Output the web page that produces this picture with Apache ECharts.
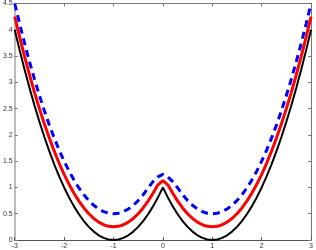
<!DOCTYPE html>
<html>
<head>
<meta charset="utf-8">
<script src="https://cdn.jsdelivr.net/npm/echarts@6/dist/echarts.min.js"></script>
<style>html,body{margin:0;padding:0;background:#fff}#c{width:316px;height:250px}</style>
</head>
<body>
<div id="c"></div>
<script>
var xs = [-3.0,-2.9,-2.8,-2.7,-2.6,-2.5,-2.4,-2.3,-2.2,-2.1,-2.0,-1.9,-1.8,-1.7,-1.6,-1.5,-1.4,-1.3,-1.2,-1.1,-1.0,-0.9,-0.8,-0.7,-0.6,-0.5,-0.4,-0.3,-0.2,-0.1,0.0,0.1,0.2,0.3,0.4,0.5,0.6,0.7,0.8,0.9,1.0,1.1,1.2,1.3,1.4,1.5,1.6,1.7,1.8,1.9,2.0,2.1,2.2,2.3,2.4,2.5,2.6,2.7,2.8,2.9,3.0];
var blackY = [4.00,3.61,3.24,2.89,2.56,2.25,1.96,1.69,1.44,1.21,1.00,0.81,0.64,0.49,0.36,0.25,0.16,0.09,0.04,0.01,0.00,0.01,0.04,0.09,0.16,0.25,0.36,0.49,0.64,0.81,1.00,0.81,0.64,0.49,0.36,0.25,0.16,0.09,0.04,0.01,0.00,0.01,0.04,0.09,0.16,0.25,0.36,0.49,0.64,0.81,1.00,1.21,1.44,1.69,1.96,2.25,2.56,2.89,3.24,3.61,4.00];
var redY = [4.25,3.86,3.49,3.14,2.81,2.50,2.21,1.94,1.69,1.46,1.25,1.06,0.89,0.74,0.61,0.50,0.41,0.34,0.29,0.26,0.25,0.26,0.29,0.34,0.41,0.50,0.61,0.74,0.89,1.05,1.13,1.05,0.89,0.74,0.61,0.50,0.41,0.34,0.29,0.26,0.25,0.26,0.29,0.34,0.41,0.50,0.61,0.74,0.89,1.06,1.25,1.46,1.69,1.94,2.21,2.50,2.81,3.14,3.49,3.86,4.25];
var blueY = [4.50,4.11,3.74,3.39,3.06,2.75,2.46,2.19,1.94,1.71,1.50,1.31,1.14,0.99,0.86,0.75,0.66,0.59,0.54,0.51,0.50,0.51,0.54,0.59,0.66,0.75,0.86,0.99,1.11,1.20,1.25,1.20,1.11,0.99,0.86,0.75,0.66,0.59,0.54,0.51,0.50,0.51,0.54,0.59,0.66,0.75,0.86,0.99,1.14,1.31,1.50,1.71,1.94,2.19,2.46,2.75,3.06,3.39,3.74,4.11,4.50];
var xTicks = ['-3','-2','-1','0','1','2','3'];
var yTicks = ['0','0.5','1','1.5','2','2.5','3','3.5','4','4.5'];

function pairs(ys){ return xs.map(function(x,i){ return [x, ys[i]]; }); }

var chart = echarts.init(document.getElementById('c'), null, {renderer:'canvas'});
var lab = {fontFamily:'Liberation Sans', fontSize:7, color:'#333'};
chart.setOption({
  animation:false,
  grid:{left:13, right:3, top:3.5, bottom:9, containLabel:false},
  xAxis:[
    {type:'value', min:-3, max:3, interval:1, position:'bottom',
     axisLine:{show:true, onZero:false, lineStyle:{color:'#555', width:1}},
     axisTick:{show:true, inside:true, length:3, lineStyle:{color:'#555'}},
     axisLabel:Object.assign({margin:3, formatter:function(v){ var i=xTicks.indexOf(String(v)); return i>=0?xTicks[i]:''; }}, lab),
     splitLine:{show:false}},
    {type:'value', min:-3, max:3, interval:1, position:'top',
     axisLine:{show:true, onZero:false, lineStyle:{color:'#777', width:1}},
     axisTick:{show:true, inside:true, length:3, lineStyle:{color:'#777'}},
     axisLabel:{show:false}, splitLine:{show:false}}
  ],
  yAxis:[
    {type:'value', min:0, max:4.5, interval:0.5, position:'left',
     axisLine:{show:true, onZero:false, lineStyle:{color:'#bbb', width:2}},
     axisTick:{show:true, inside:true, length:3, lineStyle:{color:'#777'}},
     axisLabel:Object.assign({margin:2, formatter:function(v){ var i=yTicks.indexOf(String(v)); return i>=0?yTicks[i]:''; }}, lab),
     splitLine:{show:false}},
    {type:'value', min:0, max:4.5, interval:0.5, position:'right',
     axisLine:{show:true, onZero:false, lineStyle:{color:'#777', width:1}},
     axisTick:{show:true, inside:true, length:3, lineStyle:{color:'#777'}},
     axisLabel:{show:false}, splitLine:{show:false}}
  ],
  series:[
    {type:'line', name:'black', data:pairs(blackY), showSymbol:false, symbol:'none', smooth:false,
     lineStyle:{color:'#000000', width:2}, xAxisIndex:0, yAxisIndex:0, z:3},
    {type:'line', name:'red', data:pairs(redY), showSymbol:false, symbol:'none', smooth:false,
     lineStyle:{color:'#ff0000', width:3}, xAxisIndex:0, yAxisIndex:0, z:4},
    {type:'line', name:'blue', data:pairs(blueY), showSymbol:false, symbol:'none', smooth:false,
     lineStyle:{color:'#0000ff', width:3, type:[7,5]}, xAxisIndex:0, yAxisIndex:0, z:5}
  ]
});
</script>
</body>
</html>
